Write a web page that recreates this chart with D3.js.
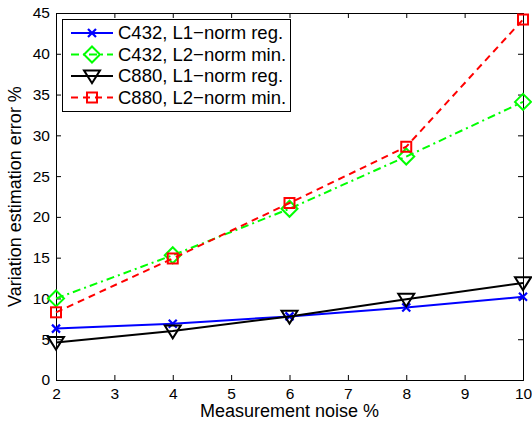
<!DOCTYPE html>
<html>
<head>
<meta charset="utf-8">
<script src="https://cdn.jsdelivr.net/npm/d3@7"></script>
<style>
  body { margin: 0; background: #fff; }
  svg { font-family: "Liberation Sans", Arial, sans-serif; }
</style>
</head>
<body>
<svg id="chart" width="532" height="423"></svg>
<script>
// ── DATA ──
const noise = [2, 4, 6, 8, 10];
const c432L1 = [6.3, 6.9, 7.8, 8.9, 10.2];
const c432L2 = [10.0, 15.3, 21.0, 27.4, 34.1];
const c880L1 = [4.6, 6.0, 7.8, 9.9, 11.9];
const c880L2 = [8.3, 14.9, 21.7, 28.6, 44.2];
const xTicks = [2, 3, 4, 5, 6, 7, 8, 9, 10];
const yTicks = [0, 5, 10, 15, 20, 25, 30, 35, 40, 45];

const series = [
  { name: 'C432, L1\u2212norm reg.', values: c432L1, color: '#0000ff', dash: null, marker: 'x' },
  { name: 'C432, L2\u2212norm min.', values: c432L2, color: '#00ff00', dash: '8,4,2,4', marker: 'diamond' },
  { name: 'C880, L1\u2212norm reg.', values: c880L1, color: '#000000', dash: null, marker: 'tri' },
  { name: 'C880, L2\u2212norm min.', values: c880L2, color: '#ff0000', dash: '7,5', marker: 'square' }
];

const M = { left: 56, right: 9, top: 13, bottom: 43 };
const W = 532, H = 423;
const svg = d3.select('#chart');

const x = d3.scaleLinear().domain([2, 10]).range([M.left, W - M.right]);
const y = d3.scaleLinear().domain([0, 45]).range([H - M.bottom, M.top]);

// ── Axes (inward ticks, box) ──
const tl = 5;
svg.append('g').attr('transform', `translate(0,${y(0)})`)
  .call(d3.axisBottom(x).tickValues(xTicks).tickSize(-tl).tickPadding(8).tickFormat(d3.format('d')));
svg.append('g').attr('transform', `translate(0,${y(45)})`)
  .call(d3.axisTop(x).tickValues(xTicks).tickSize(-tl).tickFormat(''));
svg.append('g').attr('transform', `translate(${x(2)},0)`)
  .call(d3.axisLeft(y).tickValues(yTicks).tickSize(-tl).tickPadding(6).tickFormat(d3.format('d')));
svg.append('g').attr('transform', `translate(${x(10)},0)`)
  .call(d3.axisRight(y).tickValues(yTicks).tickSize(-tl).tickFormat(''));

svg.selectAll('.domain').attr('stroke', '#000').attr('stroke-width', 1);
svg.selectAll('.tick line').attr('stroke', '#000');
svg.selectAll('.tick text').attr('font-size', 15.5).attr('fill', '#000')
  .attr('font-family', '"Liberation Sans", Arial, sans-serif');

// axis labels
svg.append('text').attr('x', (x(2) + x(10)) / 2).attr('y', 417)
  .attr('text-anchor', 'middle').attr('font-size', 18).text('Measurement noise %');
svg.append('text').attr('transform', `translate(21,${(y(0) + y(45)) / 2}) rotate(-90)`)
  .attr('text-anchor', 'middle').attr('font-size', 18).text('Variation estimation error %');

// ── markers ──
function drawMarker(g, type, color, cx, cy) {
  if (type === 'x') {
    const s = 4;
    g.append('path').attr('d', `M${cx - s},${cy - s}L${cx + s},${cy + s}M${cx - s},${cy + s}L${cx + s},${cy - s}`)
      .attr('stroke', color).attr('stroke-width', 2.2).attr('fill', 'none');
  } else if (type === 'diamond') {
    const s = 8;
    g.append('path').attr('d', `M${cx},${cy - s}L${cx + s},${cy}L${cx},${cy + s}L${cx - s},${cy}Z`)
      .attr('stroke', color).attr('stroke-width', 2).attr('fill', 'none');
  } else if (type === 'tri') {
    const s = 8;
    g.append('path').attr('d', `M${cx - s},${cy - s * 0.7}L${cx + s},${cy - s * 0.7}L${cx},${cy + s * 0.9}Z`)
      .attr('stroke', color).attr('stroke-width', 2).attr('fill', 'none');
  } else if (type === 'square') {
    const s = 5;
    g.append('rect').attr('x', cx - s).attr('y', cy - s).attr('width', 2 * s).attr('height', 2 * s)
      .attr('stroke', color).attr('stroke-width', 2).attr('fill', 'none');
  }
}

const line = d3.line().x((d, i) => x(noise[i])).y(d => y(d));

series.forEach(s => {
  const g = svg.append('g');
  g.append('path').datum(s.values).attr('d', line)
    .attr('fill', 'none').attr('stroke', s.color).attr('stroke-width', 2)
    .attr('stroke-dasharray', s.dash);
  s.values.forEach((v, i) => drawMarker(g, s.marker, s.color, x(noise[i]), y(v)));
});

// ── legend ──
const lg = svg.append('g');
lg.append('rect').attr('x', 62.5).attr('y', 19.5).attr('width', 228).attr('height', 92)
  .attr('fill', '#fff').attr('stroke', '#000').attr('stroke-width', 1);
series.forEach((s, i) => {
  const ly = 33 + i * 21.5;
  lg.append('line').attr('x1', 71).attr('x2', 113).attr('y1', ly).attr('y2', ly)
    .attr('stroke', s.color).attr('stroke-width', 2).attr('stroke-dasharray', s.dash);
  drawMarker(lg, s.marker, s.color, 92, ly);
  lg.append('text').attr('x', 118).attr('y', ly + 6.3).attr('font-size', 18.5).text(s.name);
});
</script>
</body>
</html>
